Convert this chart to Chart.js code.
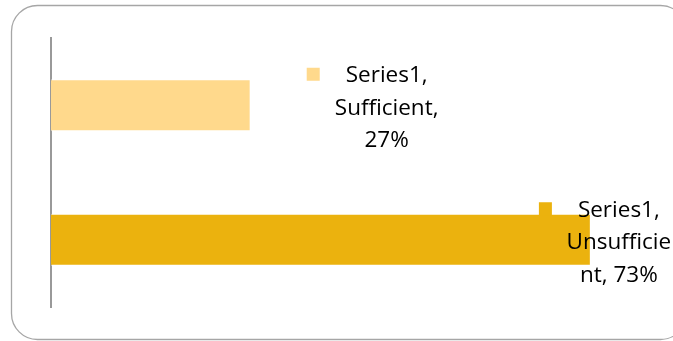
<!DOCTYPE html>
<html>
<head>
<meta charset="utf-8">
<script src="https://cdn.jsdelivr.net/npm/chart.js@4/dist/chart.umd.min.js"></script>
<style>
  html, body { margin: 0; padding: 0; background: #ffffff; }
  #wrap { position: relative; width: 673px; height: 341px; }
</style>
</head>
<body>
<div id="wrap"><canvas id="chart" width="673" height="341"></canvas></div>
<script>
const categories = ['Sufficient', 'Unsufficient'];
const seriesName = 'Series1';
const values = [27, 73];
const barColors = ['#FFD98C', '#EBB20E'];

// callout placement relative to the bar end (dx, dy of text block centre)
const calloutOffsets = [[136, 3], [28, 3]];

// rounded frame around the whole chart (right side runs past the canvas)
const framePlugin = {
  id: 'frame',
  beforeDraw(chart) {
    const ctx = chart.ctx;
    ctx.save();
    ctx.strokeStyle = '#A6A6A6';
    ctx.lineWidth = 1.3;
    ctx.beginPath();
    ctx.roundRect(11.5, 5.5, 675, 334, 26);
    ctx.stroke();
    ctx.restore();
  }
};

// Excel-style data callouts: legend key + "series, category, value%"
const calloutPlugin = {
  id: 'callouts',
  afterDatasetsDraw(chart) {
    const ctx = chart.ctx;
    const meta = chart.getDatasetMeta(0);
    ctx.save();
    ctx.font = '22.5px "Open Sans", Lato, sans-serif';
    ctx.fillStyle = '#000000';
    ctx.textAlign = 'center';
    ctx.textBaseline = 'middle';
    const lineH = 32.5;
    meta.data.forEach((bar, i) => {
      const cx = bar.x + calloutOffsets[i][0];
      const cy = bar.y + calloutOffsets[i][1];
      let lines;
      if (i === 0) {
        lines = [seriesName + ',', categories[i] + ',', values[i] + '%'];
      } else {
        lines = [seriesName + ',', 'Unsufficie', 'nt, ' + values[i] + '%'];
      }
      const top = cy - lineH;
      lines.forEach((t, k) => ctx.fillText(t, cx, top + k * lineH));
      // legend key to the left of the first line
      const w = ctx.measureText(lines[0]).width;
      const kx = cx - w / 2 - 26 - 13;
      ctx.fillStyle = barColors[i];
      ctx.fillRect(kx, top - 8, 13, 13);
      ctx.fillStyle = '#000000';
    });
    ctx.restore();
  }
};

new Chart(document.getElementById('chart'), {
  type: 'bar',
  data: {
    labels: categories,
    datasets: [{
      label: seriesName,
      data: values,
      backgroundColor: barColors,
      borderColor: 'rgba(255,255,255,0.6)',
      borderWidth: 1,
      barPercentage: 0.385,
      categoryPercentage: 1.0
    }]
  },
  options: {
    indexAxis: 'y',
    responsive: false,
    animation: false,
    devicePixelRatio: 1,
    layout: { padding: { left: 51, right: 23, top: 38, bottom: 34 } },
    plugins: {
      legend: { display: false },
      tooltip: { enabled: false }
    },
    scales: {
      x: {
        display: false,
        min: 0,
        max: 81
      },
      y: {
        grid: { display: false, drawTicks: false },
        ticks: { display: false },
        border: { display: true, color: '#999999', width: 2 }
      }
    }
  },
  plugins: [framePlugin, calloutPlugin]
});
</script>
</body>
</html>
